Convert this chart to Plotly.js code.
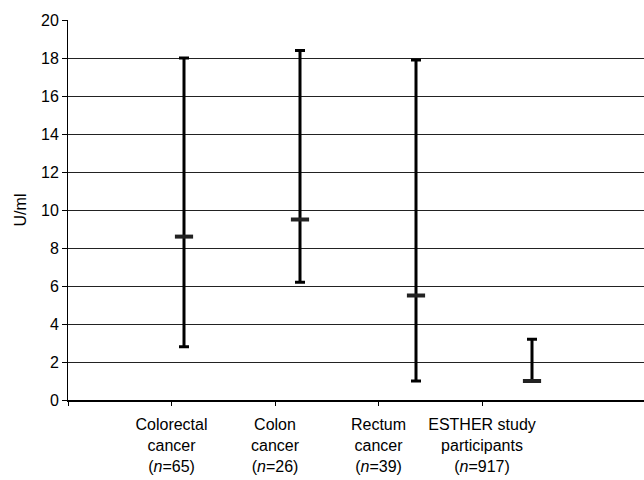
<!DOCTYPE html>
<html>
<head>
<meta charset="utf-8">
<script src="https://cdn.plot.ly/plotly-3.0.1.min.js"></script>
<style>html,body{margin:0;padding:0;background:#fff;}#chart{width:644px;height:480px;}</style>
</head>
<body>
<div id="chart"></div>
<script>
// Group labels (multi-line) and positions
const groupLabels = [
  "Colorectal<br>cancer<br>(<i>n</i>=65)",
  "Colon<br>cancer<br>(<i>n</i>=26)",
  "Rectum<br>cancer<br>(<i>n</i>=39)",
  "ESTHER study<br>participants<br>(<i>n</i>=917)"
];
const groupPos = [1, 2, 3, 4];
// Values in U/ml
const medianVals = [8.6, 9.5, 5.5, 1.0];
const lowVals = [2.8, 6.2, 1.0, 1.0];
const highVals = [18.0, 18.4, 17.9, 3.2];
const yTicks = [0, 2, 4, 6, 8, 10, 12, 14, 16, 18, 20];

const plusArr = highVals.map((h, i) => h - medianVals[i]);
const minusArr = lowVals.map((l, i) => medianVals[i] - l);

const font = {family: "Liberation Sans, Arial, sans-serif", size: 16, color: "#000"};

const traces = [
  {
    type: "scatter", mode: "markers",
    x: groupPos, y: medianVals, xaxis: "x", yaxis: "y",
    marker: {symbol: "line-ew", size: 13, color: "#222", line: {width: 4, color: "#222"}},
    error_y: {type: "data", symmetric: false, array: plusArr, arrayminus: minusArr,
              color: "#000", thickness: 3, width: 5},
    hoverinfo: "skip", showlegend: false
  },
  {
    type: "scatter", mode: "markers",
    x: [0].concat(groupPos), y: [null, null, null, null, null], xaxis: "x2", yaxis: "y",
    marker: {opacity: 0}, hoverinfo: "skip", showlegend: false
  }
];

const layout = {
  width: 644, height: 480,
  margin: {l: 68, r: 0, t: 20, b: 80},
  paper_bgcolor: "#fff", plot_bgcolor: "#fff",
  font: font,
  showlegend: false,
  xaxis: {
    range: [0, 4.9655], showticklabels: false, ticks: "",
    showline: true, linecolor: "#000", linewidth: 2,
    showgrid: false, zeroline: false, fixedrange: true
  },
  xaxis2: {
    overlaying: "x", anchor: "y", side: "bottom",
    range: [0, 5.565],
    tickmode: "array", tickvals: [0].concat(groupPos), ticktext: [""].concat(groupLabels),
    ticks: "outside", ticklen: 5, tickwidth: 1, tickcolor: "#000",
    ticklabelstandoff: 5,
    tickfont: font,
    showline: false, showgrid: false, zeroline: false
  },
  yaxis: {
    range: [0, 20], tickmode: "array", tickvals: yTicks,
    ticks: "outside", ticklen: 5, tickwidth: 1, tickcolor: "#000",
    tickfont: font,
    showline: true, linecolor: "#000", linewidth: 1,
    showgrid: true, gridcolor: "#222", gridwidth: 1,
    zeroline: false,
    title: {text: "U/ml", font: font, standoff: 10}
  }
};

Plotly.newPlot("chart", traces, layout, {staticPlot: true});
</script>
</body>
</html>
